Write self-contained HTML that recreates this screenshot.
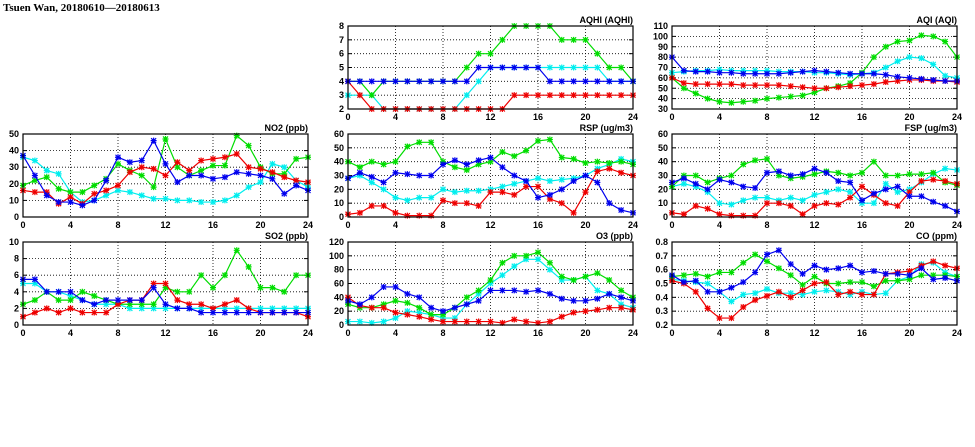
<!DOCTYPE html>
<html><head><meta charset="utf-8"><style>
body{margin:0;background:#fff;width:975px;height:447px;overflow:hidden}
svg{display:block}
text{font-family:"Liberation Sans",sans-serif;font-weight:bold;fill:#000}
</style></head><body>
<svg id="s" width="975" height="447" xmlns="http://www.w3.org/2000/svg">
<text x="3" y="11" font-size="11" font-family="Liberation Serif" style="font-family:'Liberation Serif',serif">Tsuen Wan, 20180610—20180613</text>
</svg>
<script>
const C={g:"#00dd00",b:"#0000ee",c:"#00eeee",r:"#ee0000"};
const P=[
{t:"AQHI (AQHI)",x:348,y:26,min:2,max:8,st:1,d:{
c:[3,3,3,2,2,2,2,2,2,2,3,4,5,5,5,5,5,5,5,5,5,5,4,4,4],
g:[4,4,3,4,4,4,4,4,4,4,5,6,6,7,8,8,8,8,7,7,7,6,5,5,4],
r:[4,3,2,2,2,2,2,2,2,2,2,2,2,2,3,3,3,3,3,3,3,3,3,3,3],
b:[4,4,4,4,4,4,4,4,4,4,4,5,5,5,5,5,5,4,4,4,4,4,4,4,4]}},
{t:"AQI (AQI)",x:672,y:26,min:30,max:110,st:10,d:{
c:[65,66,67,67,68,67,67,67,67,66,66,66,65,65,64,63,64,65,70,76,80,79,73,62,60],
g:[60,50,45,40,37,36,37,38,40,41,42,43,46,50,52,55,65,80,90,95,96,101,100,95,80],
r:[60,55,54,54,54,54,53,53,53,53,52,51,50,50,51,52,53,54,56,57,58,58,57,57,56],
b:[80,67,66,66,65,65,64,64,64,64,65,66,67,66,65,64,64,64,63,61,60,59,58,57,57]}},
{t:"NO2 (ppb)",x:23,y:134,min:0,max:50,st:10,d:{
c:[36,34,28,26,15,9,10,13,16,15,13,11,11,10,10,9,9,10,13,18,21,32,30,22,18],
g:[19,22,24,17,15,15,19,23,32,28,25,18,47,30,25,28,31,31,49,43,30,26,26,35,36],
r:[16,15,15,8,12,8,14,16,19,27,30,29,25,33,28,34,35,36,38,30,29,27,24,22,21],
b:[37,25,13,9,9,7,10,22,36,33,34,46,32,21,25,25,23,24,27,26,25,23,14,19,16]}},
{t:"RSP (ug/m3)",x:348,y:134,min:0,max:60,st:10,d:{
c:[28,30,25,20,14,12,14,14,20,18,19,19,20,22,24,26,28,26,27,28,30,35,38,42,40],
g:[40,36,40,38,40,51,54,54,40,36,34,38,40,47,44,48,55,56,43,42,39,40,39,40,38],
r:[2,3,8,8,3,1,1,1,12,10,10,8,18,18,16,22,22,13,10,3,18,33,35,32,30],
b:[28,32,29,25,32,31,30,30,38,41,38,41,43,36,30,26,14,16,20,26,30,25,10,5,3]}},
{t:"FSP (ug/m3)",x:672,y:134,min:0,max:60,st:10,d:{
c:[22,24,22,18,10,9,12,14,14,12,14,12,16,18,20,18,10,10,24,18,20,25,31,35,34],
g:[22,30,30,25,28,30,38,41,42,30,28,29,31,33,32,30,32,40,30,30,31,31,32,25,23],
r:[3,2,8,6,2,1,1,1,10,10,8,2,8,10,9,14,22,16,10,8,18,26,27,26,24],
b:[25,28,24,20,27,25,22,21,32,33,30,31,35,32,26,25,12,17,20,22,15,15,11,8,4]}},
{t:"SO2 (ppb)",x:23,y:242,min:0,max:10,st:2,d:{
c:[5,5,4,4,3.5,3,2.5,2.5,2.5,2,2,2,2,2,2,2,2,2,2,2,2,2,2,2,2],
g:[2.5,3,4,3,3,4,3.5,3,2.5,2.5,2.5,2.5,4.5,4,4,6,4.5,6,9,7,4.5,4.5,4,6,6],
r:[1,1.5,2,1.5,2,1.5,1.5,1.5,2.5,3,3,5,5,3,2.5,2.5,2,2.5,3,2,1.5,1.5,1.5,1.5,1],
b:[5.5,5.5,4,4,4,3,2.5,3,3,3,3,4.5,2.5,2,2,1.5,1.5,1.5,1.5,1.5,1.5,1.5,1.5,1.5,1.5]}},
{t:"O3 (ppb)",x:348,y:242,min:0,max:120,st:20,d:{
c:[5,5,3,5,10,20,18,15,10,10,30,45,60,72,85,95,95,80,65,65,70,50,45,30,25],
g:[30,25,25,30,35,32,25,15,15,25,40,50,65,90,100,100,105,90,70,65,70,75,65,50,40],
r:[40,28,25,25,18,15,12,8,5,5,5,5,5,3,8,5,3,5,12,18,20,22,25,25,22],
b:[35,30,40,55,55,45,40,25,20,25,30,35,50,50,50,48,50,45,38,35,35,38,45,40,35]}},
{t:"CO (ppm)",x:672,y:242,min:0.2,max:0.8,st:0.1,d:{
c:[.53,.52,.51,.50,.44,.37,.42,.43,.46,.43,.43,.42,.44,.45,.44,.42,.44,.42,.43,.52,.55,.64,.65,.58,.55],
g:[.55,.56,.57,.55,.58,.58,.65,.71,.66,.61,.56,.49,.55,.50,.50,.51,.51,.48,.52,.52,.53,.56,.56,.56,.55],
r:[.52,.50,.44,.32,.25,.25,.33,.38,.41,.44,.40,.45,.50,.51,.42,.44,.42,.42,.57,.58,.59,.63,.66,.63,.61],
b:[.56,.51,.52,.44,.44,.47,.51,.58,.71,.74,.64,.57,.63,.60,.61,.63,.58,.59,.57,.57,.56,.61,.53,.54,.52]}}
];
const W=285,H=83;let h="";
for(const p of P){
 const X=i=>p.x+i*W/24,Y=v=>p.y+H-(v-p.min)/(p.max-p.min)*H;
 h+=`<text x="${p.x+W}" y="${p.y-3}" font-size="9" text-anchor="end">${p.t}</text>`;
 const n=Math.round((p.max-p.min)/p.st);
 for(let k=0;k<=n;k++){const v=p.min+k*p.st,y=Y(v);
  if(k>0&&k<n)h+=`<line x1="${p.x}" x2="${p.x+W}" y1="${y}" y2="${y}" stroke="#000" stroke-width="0.8" stroke-dasharray="1,2"/>`;
  h+=`<line x1="${p.x}" x2="${p.x+4}" y1="${y}" y2="${y}" stroke="#000"/><line x1="${p.x+W-4}" x2="${p.x+W}" y1="${y}" y2="${y}" stroke="#000"/>`;
  h+=`<text x="${p.x-4}" y="${y+3}" font-size="9" text-anchor="end">${p.st<1?v.toFixed(1):v}</text>`;}
 for(let i=0;i<=24;i+=4){const x=X(i);
  if(i>0&&i<24)h+=`<line x1="${x}" x2="${x}" y1="${p.y}" y2="${p.y+H}" stroke="#000" stroke-width="0.8" stroke-dasharray="1,2"/>`;
  h+=`<text x="${x}" y="${p.y+H+11}" font-size="9" text-anchor="middle">${i}</text>`;}
 for(const k of ["c","g","r","b"]){const d=p.d[k];
  h+=`<polyline fill="none" stroke="${C[k]}" stroke-width="1.2" points="${d.map((v,i)=>X(i)+","+Y(Math.max(p.min,v))).join(" ")}"/>`;
  for(let i=0;i<25;i++){const x=X(i),y=Y(Math.max(p.min,d[i]));
   h+=`<path d="M${x-2.5} ${y-2.5}L${x+2.5} ${y+2.5}M${x-2.5} ${y+2.5}L${x+2.5} ${y-2.5}M${x-3} ${y}H${x+3}M${x} ${y-3}V${y+3}" stroke="${C[k]}" stroke-width="1.2"/>`;}}
 h+=`<rect x="${p.x}" y="${p.y}" width="${W}" height="${H}" fill="none" stroke="#000" stroke-width="1.2"/>`;
}
document.getElementById("s").insertAdjacentHTML("beforeend",h);
</script>
</body></html>
